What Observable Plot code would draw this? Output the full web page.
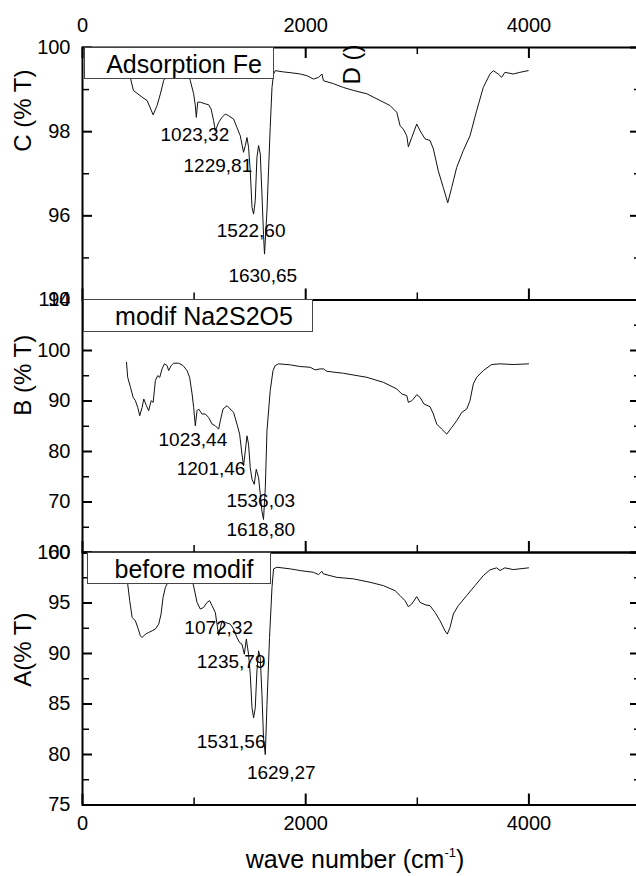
<!DOCTYPE html>
<html>
<head>
<meta charset="utf-8">
<script src="https://cdn.jsdelivr.net/npm/d3@7"></script>
<script src="https://cdn.jsdelivr.net/npm/@observablehq/plot@0.6"></script>
<style>
html, body { margin: 0; padding: 0; background: #fff; }
#chart { position: relative; width: 636px; height: 876px; overflow: hidden; background: #fff;
  font-family: "Liberation Sans", Arial, sans-serif; color: #000; }
#chart svg { position: absolute; left: 0; top: 0; }
.legend { position: absolute; box-sizing: border-box; border: 1px solid #444; background: #fff;
  font-size: 25px; line-height: 33px; text-align: center; white-space: nowrap; overflow: visible; }
.xtitle { position: absolute; left: 155px; width: 400px; top: 847px; text-align: center;
  font-size: 25px; line-height: 25px; white-space: nowrap; }
.xtitle span { font-size: 13px; position: relative; top: -11px; line-height: 0; }
</style>
</head>
<body>
<div id="chart"></div>
<script>
// ---- data (wavenumber cm-1, % transmittance) ----
const xMajor = [0, 2000, 4000];
const xMinor = [1000, 3000];

const specC = [[400,99.6],[456,98.98],[534,98.82],[579,98.74],[633,98.40],[668,98.62],[698,98.90],[727,99.21],[780,99.55],[860,99.6],[930,99.5],[966,99.21],[996,98.90],[1011,98.62],[1020,98.34],[1032,98.70],[1056,98.70],[1101,98.66],[1130,98.64],[1152,98.54],[1175,98.26],[1190,98.02],[1220,98.22],[1250,98.34],[1280,98.42],[1309,98.38],[1354,98.30],[1384,98.10],[1414,97.90],[1443,97.51],[1459,97.67],[1474,97.86],[1488,97.63],[1503,97.07],[1519,96.20],[1533,96.04],[1548,96.36],[1563,97.39],[1578,97.67],[1593,97.47],[1608,96.52],[1622,95.56],[1631,95.09],[1653,96.12],[1682,98.10],[1698,99.05],[1712,99.37],[1727,99.45],[1800,99.42],[1870,99.40],[1951,99.37],[2011,99.33],[2070,99.25],[2115,99.29],[2145,99.37],[2159,99.21],[2249,99.14],[2338,99.05],[2428,98.98],[2548,98.90],[2667,98.74],[2756,98.62],[2816,98.46],[2846,98.14],[2875,98.06],[2906,97.90],[2920,97.64],[2950,97.86],[2995,98.18],[3025,98.02],[3069,97.83],[3114,97.79],[3144,97.59],[3188,97.07],[3233,96.67],[3273,96.31],[3308,96.67],[3353,97.15],[3412,97.55],[3472,97.90],[3532,98.50],[3591,99.05],[3651,99.37],[3681,99.45],[3725,99.37],[3756,99.29],[3785,99.41],[3860,99.37],[3919,99.41],[3994,99.45]];

const specB = [[394,97.67],[405,94.69],[430,92.70],[454,90.72],[474,90.06],[495,88.73],[513,87.08],[534,88.73],[549,90.40],[573,89.07],[593,88.07],[615,90.06],[633,89.72],[653,94.04],[674,95.03],[692,94.69],[713,96.36],[734,97.36],[758,97.02],[772,96.02],[794,97.02],[817,97.48],[862,97.48],[901,97.02],[937,96.02],[960,94.69],[982,91.39],[996,88.73],[1011,85.09],[1026,88.07],[1041,88.41],[1071,87.42],[1101,87.42],[1130,86.74],[1161,85.43],[1190,85.09],[1220,84.43],[1235,86.08],[1259,88.41],[1295,89.07],[1324,88.41],[1354,87.73],[1384,85.43],[1408,83.44],[1429,79.46],[1443,77.14],[1459,80.12],[1474,83.10],[1488,81.45],[1503,76.80],[1519,74.49],[1539,73.50],[1557,76.48],[1578,74.81],[1593,71.51],[1608,68.19],[1622,66.54],[1638,72.82],[1653,84.10],[1682,92.05],[1707,96.02],[1727,97.02],[1757,97.36],[1861,97.16],[1951,96.82],[2040,96.68],[2085,96.16],[2130,96.36],[2159,96.36],[2190,95.88],[2338,95.49],[2548,94.69],[2696,93.70],[2816,92.39],[2861,91.39],[2906,91.05],[2920,89.72],[2950,90.06],[2965,90.40],[2995,91.25],[3025,90.72],[3060,89.40],[3114,88.87],[3144,87.42],[3174,85.43],[3219,84.43],[3264,83.44],[3308,84.75],[3353,86.08],[3398,87.73],[3443,88.41],[3472,90.06],[3502,93.38],[3532,94.69],[3591,96.02],[3666,97.22],[3741,97.36],[3860,97.22],[3997,97.36]];

const specA = [[398,97.6],[405,96.89],[423,95.23],[445,93.57],[474,93.24],[495,92.57],[519,91.75],[534,91.58],[564,91.92],[593,92.08],[624,92.25],[653,92.42],[683,92.91],[704,93.91],[722,95.56],[743,96.55],[758,96.89],[790,97.8],[860,98.0],[930,97.6],[991,96.89],[1011,95.89],[1026,95.06],[1056,94.40],[1085,94.56],[1116,95.06],[1139,95.23],[1161,94.73],[1190,94.07],[1220,91.8],[1250,93.24],[1280,93.07],[1324,92.91],[1354,92.42],[1384,91.58],[1408,91.08],[1429,90.92],[1450,89.93],[1468,91.42],[1488,89.93],[1503,87.94],[1519,84.62],[1533,83.63],[1548,84.62],[1563,88.27],[1578,90.26],[1593,89.59],[1608,85.95],[1622,81.64],[1638,79.99],[1653,84.96],[1676,91.58],[1698,96.55],[1712,98.38],[1742,98.54],[1861,98.38],[1951,98.21],[2070,98.04],[2115,97.81],[2145,98.14],[2159,97.88],[2279,97.54],[2428,97.39],[2577,97.05],[2696,96.72],[2801,96.22],[2846,95.73],[2890,95.23],[2920,94.63],[2950,94.90],[2995,95.63],[3025,95.06],[3069,94.83],[3114,94.73],[3159,94.07],[3204,93.24],[3248,92.25],[3269,91.92],[3293,92.57],[3323,93.91],[3367,94.73],[3442,95.73],[3517,96.72],[3591,97.71],[3651,98.28],[3711,98.48],[3741,98.21],[3785,98.48],[3860,98.31],[3997,98.48]];

// peak annotations: text, anchor wavenumber, anchor %T
const peaksC = ["1023,32", "1229,81", "1522,60", "1630,65"];
const peaksCx = [1007, 1213, 1511, 1615];
const peaksCy = [97.93, 97.19, 95.64, 94.57];
const peaksB = ["1023,44", "1201,46", "1536,03", "1618,80"];
const peaksBx = [989, 1152, 1597, 1597];
const peaksBy = [82.31, 76.54, 70.18, 64.41];
const peaksA = ["1072,32", "1235,79", "1531,56", "1629,27"];
const peaksAx = [1220, 1332, 1332, 1781];
const peaksAy = [92.54, 89.17, 81.21, 78.13];

const yMajorC = [94, 96, 98, 100], yMinorC = [95, 97, 99];
const yMajorB = [60, 70, 80, 90, 100, 110], yMinorB = [65, 75, 85, 95, 105];
const yMajorA = [75, 80, 85, 90, 95, 100], yMinorA = [77.5, 82.5, 87.5, 92.5, 97.5];

const legendC = "Adsorption Fe", legendB = "modif Na2S2O5", legendA = "before modif";
const titleC = "C (% T)", titleB = "B (% T)", titleA = "A(% T)";
const hiddenTitle = "D ()";

// ---- layout ----
const W = 644, H = 876, ML = 82, MR = 4, PH = 252.5;
const PW = W - ML - MR;
const FONT = '"Liberation Sans", Arial, sans-serif';
const fmt = d => String(d);
const chart = document.getElementById("chart");

function panel(cfg) {
  const marks = [
    Plot.line(cfg.spectrum, {x: d => d[0], y: d => d[1], stroke: "#111", strokeWidth: 1}),
    Plot.frame({stroke: "#000", strokeWidth: 2}),
    Plot.ruleY(cfg.yMajor, {y: d => d, insetRight: PW - 10, stroke: "#000", strokeWidth: 2}),
    Plot.ruleY(cfg.yMinor, {y: d => d, insetRight: PW - 7, stroke: "#000", strokeWidth: 1.5}),
    Plot.ruleY(cfg.yMajor, {y: d => d, insetLeft: PW - 10, stroke: "#000", strokeWidth: 2}),
    Plot.ruleY(cfg.yMinor, {y: d => d, insetLeft: PW - 6, stroke: "#000", strokeWidth: 1.5}),
    Plot.ruleX(xMajor, {x: d => d, insetTop: PH - 11, stroke: "#000", strokeWidth: 2}),
    Plot.ruleX(xMinor, {x: d => d, insetTop: PH - 7, stroke: "#000", strokeWidth: 1.5}),
    Plot.axisY({ticks: cfg.yMajor, tickFormat: fmt, tickSize: 0, tickPadding: 12, label: null, fontSize: 20}),
    Plot.text(cfg.peaks, {x: (d, i) => cfg.peaksX[i], y: (d, i) => cfg.peaksY[i], text: d => d, fontSize: 19}),
    Plot.text([cfg.title], {text: d => d, frameAnchor: "left", rotate: -90, dx: -59.5, dy: cfg.titleDy, fontSize: 24})
  ];
  if (cfg.topAxis) {
    marks.push(
      Plot.ruleX(xMajor, {x: d => d, insetBottom: PH - 11, stroke: "#000", strokeWidth: 2}),
      Plot.ruleX(xMinor, {x: d => d, insetBottom: PH - 7, stroke: "#000", strokeWidth: 1.5}),
      Plot.axisX({anchor: "top", ticks: xMajor, tickFormat: fmt, tickSize: 0, tickPadding: 16, label: null, fontSize: 20}),
      Plot.text([hiddenTitle], {text: d => d, frameAnchor: "top-left", rotate: -90, dx: 260, dy: 37, fontSize: 24})
    );
  }
  if (cfg.bottomAxis) {
    marks.push(Plot.axisX({anchor: "bottom", ticks: xMajor, tickFormat: fmt, tickSize: 0, tickPadding: 11, label: null, fontSize: 20}));
  }
  const svg = Plot.plot({
    width: W, height: H,
    marginLeft: ML, marginRight: MR, marginTop: cfg.top, marginBottom: H - cfg.top - PH,
    x: {domain: [0, 5000], axis: null},
    y: {domain: cfg.yDomain, axis: null},
    style: {background: "transparent", overflow: "visible", maxWidth: "none", fontFamily: FONT, fontSize: "20px", color: "#000"},
    marks
  });
  svg.style.position = "absolute";
  svg.style.left = "0px";
  svg.style.top = "0px";
  chart.appendChild(svg);
}

panel({top: 47, yDomain: [94, 100], yMajor: yMajorC, yMinor: yMinorC, spectrum: specC,
  peaks: peaksC, peaksX: peaksCx, peaksY: peaksCy, title: titleC, titleDy: -22, topAxis: true});
panel({top: 299.5, yDomain: [60, 110], yMajor: yMajorB, yMinor: yMinorB, spectrum: specB,
  peaks: peaksB, peaksX: peaksBx, peaksY: peaksBy, title: titleB, titleDy: -10.6});
panel({top: 552, yDomain: [75, 100], yMajor: yMajorA, yMinor: yMinorA, spectrum: specA,
  peaks: peaksA, peaksX: peaksAx, peaksY: peaksAy, title: titleA, titleDy: 8, bottomAxis: true});

function legend(text, left, top, width, height, pad) {
  const d = document.createElement("div");
  d.className = "legend";
  d.style.left = left + "px";
  d.style.top = top + "px";
  d.style.width = width + "px";
  d.style.height = height + "px";
  d.style.paddingLeft = pad + "px";
  d.textContent = text;
  chart.appendChild(d);
}
legend(legendC, 84, 47, 190, 32, 10);
legend(legendB, 83, 299, 230, 33, 12);
legend(legendA, 87, 552, 184, 32, 10);

const xt = document.createElement("div");
xt.className = "xtitle";
xt.innerHTML = 'wave number (cm<span>-1</span>)';
chart.appendChild(xt);
</script>
</body>
</html>
